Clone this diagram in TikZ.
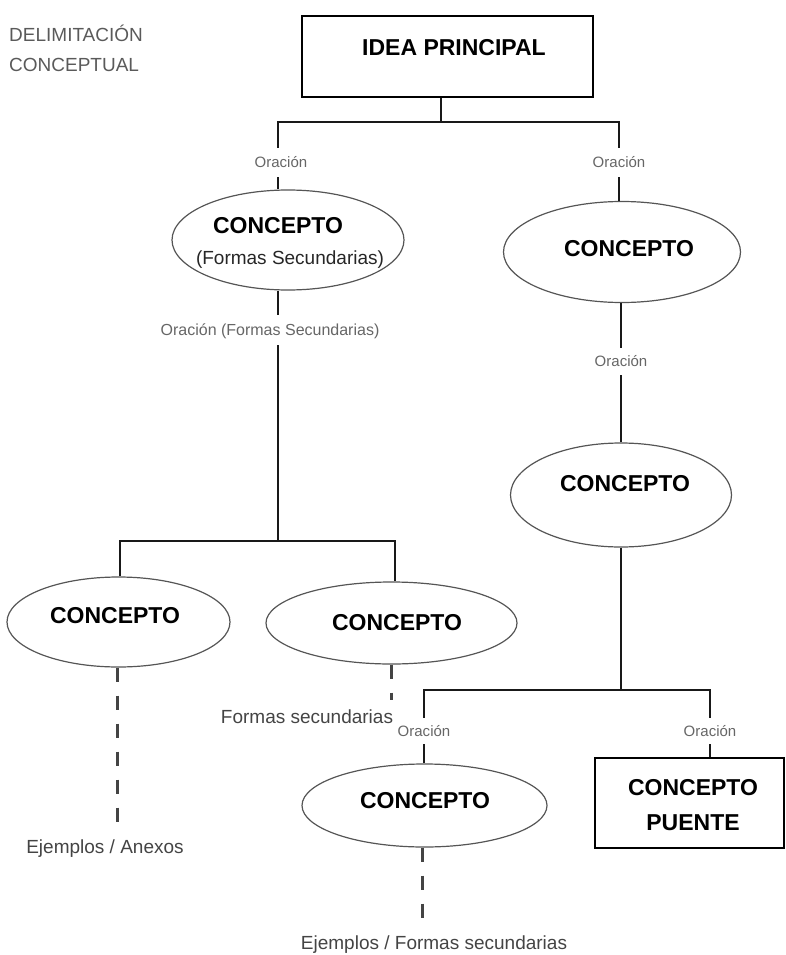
\documentclass[tikz,border=0pt]{standalone}
\usepackage{fontspec}
\setmainfont{Liberation Sans}
\usetikzlibrary{shapes.geometric}
\definecolor{titlegray}{HTML}{5A5A5A}
\definecolor{lblgray}{HTML}{666666}
\definecolor{dashgray}{HTML}{444444}
\definecolor{ellgray}{HTML}{555555}
\begin{document}
\begin{tikzpicture}[x=1pt,y=1pt,
  plain/.style={inner sep=0pt, text height=13.7pt, text depth=0pt, font=\fontsize{19}{22}\selectfont},
  big/.style={inner sep=0pt, text height=16.5pt, text depth=0pt, font=\fontsize{23}{27}\selectfont\bfseries, text=black},
  lbl/.style={inner xsep=1pt, inner ysep=0pt, text height=10.8pt, text depth=0pt, font=\fontsize{15}{18}\selectfont, text=lblgray},
  ell/.style={ellipse, draw=ellgray, line width=1.2pt, inner sep=0pt},
  boxst/.style={rectangle, draw=black, line width=2.2pt, inner sep=0pt},
  conn/.style={draw=black!90, line width=2pt},
  dashconn/.style={draw=dashgray, line width=3pt, dash pattern=on 14pt off 14pt},
  endlbl/.style={plain, inner xsep=0pt, inner ysep=10pt, text=dashgray}
]
\useasboundingbox (0,0) rectangle (786,-955);

% title
\node[plain, anchor=west, text=titlegray] (t1) at (9,-35) {DELIMITACIÓN};
\node[plain, anchor=west, text=titlegray] (t2) at (9,-65) {CONCEPTUAL};

% boxes
\node[boxst, minimum width=291pt, minimum height=81pt] (idea) at (447.5,-56.5) {};
\node[big] (ideat) at (454,-47) {IDEA PRINCIPAL};
\node[boxst, minimum width=189pt, minimum height=90pt] (puente) at (689.5,-803) {};
\node[big] (c7) at (693,-787) {CONCEPTO};
\node[big] (c8) at (693,-822) {PUENTE};

% ellipses
\node[ell, minimum width=232pt, minimum height=100pt] (e1) at (288,-240) {};
\node[ell, minimum width=237pt, minimum height=101pt] (e2) at (622,-252) {};
\node[ell, minimum width=221pt, minimum height=104pt] (e3) at (621,-495) {};
\node[ell, minimum width=223pt, minimum height=90pt] (e4) at (118.5,-622) {};
\node[ell, minimum width=251pt, minimum height=82pt] (e5) at (391.5,-623) {};
\node[ell, minimum width=245pt, minimum height=83pt] (e6) at (424.5,-805.5) {};

% ellipse texts
\node[big] (c1) at (278,-225) {CONCEPTO};
\node[plain, text=black!85] (c1b) at (290,-258) {(Formas Secundarias)};
\node[big] (c2) at (629,-248) {CONCEPTO};
\node[big] (c3) at (625,-483) {CONCEPTO};
\node[big] (c4) at (115,-615) {CONCEPTO};
\node[big] (c5) at (397,-622) {CONCEPTO};
\node[big] (c6) at (425,-800) {CONCEPTO};

% connector labels
\node[lbl, minimum height=29pt] (o1) at (281,-162.5) {Oración};
\node[lbl, minimum height=29pt] (o2) at (619,-162.5) {Oración};
\node[lbl, minimum height=30pt, font=\fontsize{16}{19}\selectfont, text height=11.5pt] (o3) at (270,-330) {Oración (Formas Secundarias)};
\node[lbl, minimum height=27pt] (o4) at (621,-361.5) {Oración};
\node[lbl, minimum height=26pt] (o5) at (424,-731) {Oración};
\node[lbl, minimum height=26pt] (o6) at (710,-731) {Oración};

% end labels
\node[endlbl] (x1) at (105,-847) {Ejemplos / Anexos};
\node[endlbl] (x2) at (307,-717) {Formas secundarias};
\node[endlbl] (x3) at (434,-943) {Ejemplos / Formas secundarias};

% junctions
\coordinate (j1) at (441,-122);
\coordinate (j2) at (278,-541);
\coordinate (j3) at (621,-690);
\coordinate (j4) at (120,-541);
\coordinate (j5) at (395,-541);

% solid connectors
\draw[conn] (idea.south -| j1) -- (j1);
\draw[conn] (o1.north -| j2) |- (j1) -| (o2.north);
\draw[conn] (o1.south -| j2) -- (e1.north -| j2);
\draw[conn] (o2.south) -- (o2.south |- e2.north);
\draw[conn] (e1.south -| j2) -- (o3.north -| j2);
\draw[conn] (o3.south -| j2) -- (j2);
\draw[conn] (e4.north -| j4) -- (j4) -- (j5) -- (e5.north -| j5);
\draw[conn] (e2.south -| o4) -- (o4.north);
\draw[conn] (o4.south) -- (o4.south |- e3.north);
\draw[conn] (e3.south) -- (j3);
\draw[conn] (o5.north) |- (j3) -| (o6.north);
\draw[conn] (o5.south) -- (o5.south |- e6.north);
\draw[conn] (o6.south) -- (o6.south |- puente.north);

% dashed connectors
\draw[dashconn] (e4.south -| 117,0) -- (x1.north -| 117,0);
\draw[dashconn] (e5.south) -- (x2.north -| e5.south);
\draw[dashconn] (e6.south -| 422,0) -- (x3.north -| 422,0);
\end{tikzpicture}
\end{document}
